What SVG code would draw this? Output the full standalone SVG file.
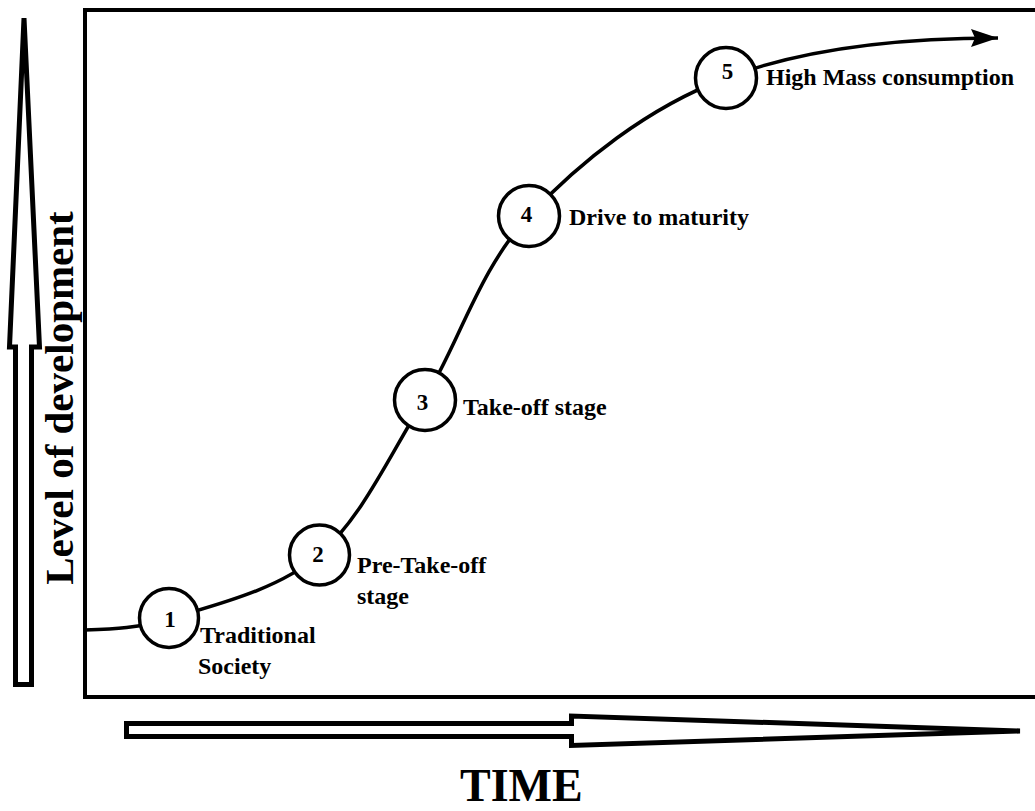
<svg xmlns="http://www.w3.org/2000/svg" width="1035" height="811" viewBox="0 0 1035 811">
<style>
.lbl{font-family:"Liberation Serif","Times New Roman",serif;font-weight:bold;font-size:24px;fill:#000}
.num{font-family:"Liberation Serif","Times New Roman",serif;font-weight:bold;font-size:23px;fill:#000;text-anchor:middle}
.node{fill:#fff;stroke:#000;stroke-width:3.5}
.big{fill:#fff;stroke:#000;stroke-width:5;stroke-linejoin:miter}
</style>
<defs>
<marker id="ah" markerUnits="userSpaceOnUse" markerWidth="30" markerHeight="20" refX="27" refY="9" orient="auto">
<path d="M0,0 L27,9 L0,18 L4,9 Z" fill="#000"/>
</marker>
</defs>
<rect width="1035" height="811" fill="#fff"/>
<g id="frame">
<path d="M1040,10 H85 V697 H1040" fill="none" stroke="#000" stroke-width="4"/>
</g>
<g id="axis-y">
<polygon class="big" points="24,18 39.5,347 31.5,347 31.5,684.5 15.5,684.5 15.5,347 9.5,347"/>
<text class="lbl" style="font-size:41px" text-anchor="middle" transform="translate(73,398) rotate(-90)">Level of development</text>
</g>
<g id="axis-x">
<polygon class="big" points="126.5,723.5 571.5,723.5 571.5,716 1020,731 571.5,745.5 571.5,736.5 126.5,736.5"/>
<text class="lbl" style="font-size:46px" x="460" y="801">TIME</text>
</g>
<g id="connectors">
<path d="M85,630 C113,629 140,628 169,619 C208,606.5 276.5,591.5 319,555 C361.5,518.5 389,456.5 424,400 C459,343.5 478.7,269.7 529,216 C579.3,162.3 647.5,107.7 726,78 C804.5,48.3 900,38 998,38" fill="none" stroke="#000" stroke-width="3.5" marker-end="url(#ah)"/>
</g>
<g id="stage1">
<circle class="node" cx="169" cy="618" r="29.5"/>
<text class="num" x="170" y="627">1</text>
<text class="lbl" x="200" y="643">Traditional</text>
<text class="lbl" x="198" y="674">Society</text>
</g>
<g id="stage2">
<circle class="node" cx="319.5" cy="555" r="30"/>
<text class="num" x="318" y="562">2</text>
<text class="lbl" x="357" y="573">Pre-Take-off</text>
<text class="lbl" x="357" y="604">stage</text>
</g>
<g id="stage3">
<circle class="node" cx="425" cy="400" r="30.5"/>
<text class="num" x="422.5" y="410">3</text>
<text class="lbl" x="463" y="415">Take-off stage</text>
</g>
<g id="stage4">
<circle class="node" cx="529" cy="216" r="30.5"/>
<text class="num" x="526.5" y="222">4</text>
<text class="lbl" x="569" y="225">Drive to maturity</text>
</g>
<g id="stage5">
<circle class="node" cx="726" cy="78" r="30.5"/>
<text class="num" x="727.5" y="79">5</text>
<text class="lbl" x="766" y="85">High Mass consumption</text>
</g>
</svg>
